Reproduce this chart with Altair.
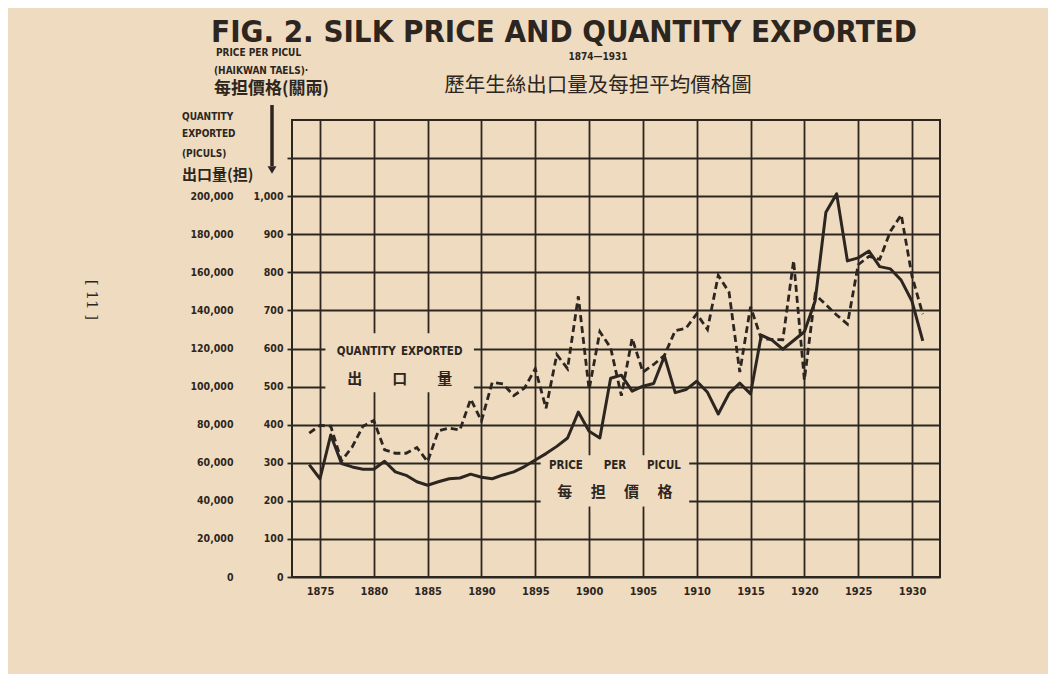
import altair as alt
import pandas as pd

# ---------------- data ----------------
years = list(range(1874, 1932))

# average price per picul, Haikwan taels
price = [295, 258, 373, 298, 289, 283, 283, 304, 276, 267,
         250, 241, 250, 258, 260, 270, 262, 258, 268, 276,
         290, 307, 324, 343, 365, 433, 383, 365, 522, 530,
         488, 501, 508, 580, 484, 492, 514, 485, 428, 482,
         509, 481, 635, 622, 598, 621, 644, 725, 958, 1006,
         830, 838, 856, 815, 809, 779, 724, 620]

# quantity exported, piculs
quantity = [75600, 79600, 79200, 61000, 68400, 79200, 82200, 66800, 65000, 65000,
            68000, 60600, 76800, 78200, 77200, 93400, 82000, 102200, 101400, 95200,
            99200, 109400, 88600, 116800, 109400, 147400, 98400, 128800, 120400, 95200,
            125400, 107600, 111600, 116400, 129400, 130600, 138200, 130000, 158400, 149600,
            107600, 142000, 125000, 124800, 124600, 166200, 103400, 148400, 143000, 137600,
            132800, 164000, 168400, 166800, 181600, 190200, 158000, 138000]

x_ticks = list(range(1875, 1935, 5))
price_ticks = list(range(0, 1200, 100))       # 1100 line drawn, unlabeled
qty_per_price_unit = 200                      # 200,000 piculs <-> 1,000 taels on the chart

# in-plot labels (year, price-scale units)
ann_text = ["QUANTITY\u2002EXPORTED", "PRICE\u2003\u2003PER\u2003\u2003PICUL"]
ann_x = [1882.4, 1902.4]
ann_y = [591, 292]
ann_cjk = ["出　　口　　量", "每 　担 　價 　格"]
ann_cjk_y = [520, 224]
# paper patches behind the labels
box_x0 = [1875.5, 1895.5]
box_x1 = [1889.3, 1909.3]
box_y0 = [485, 185]
box_y1 = [640, 320]

# ---------------- styling ----------------
INK = "#2d2620"
PAPER = "#efdcc0"
FONT = "DejaVu Sans Condensed"
CJK = "Noto Sans CJK TC"

df = pd.DataFrame({"year": years, "price": price, "quantity": quantity})
ann = pd.DataFrame({"x": ann_x, "y": ann_y, "t": ann_text})
ann2 = pd.DataFrame({"x": ann_x, "y": ann_cjk_y, "t": ann_cjk})
boxes = pd.DataFrame({"x0": box_x0, "x1": box_x1, "y0": box_y0, "y1": box_y1})

x_scale = alt.Scale(domain=[1872.4, 1932.6], nice=False, zero=False)
y_scale = alt.Scale(domain=[0, 1200], nice=False, zero=True)

x_axis = alt.Axis(values=x_ticks, format="d", grid=True, gridColor=INK, gridWidth=1.8,
                  gridOpacity=1, ticks=False, domain=False, labelFont=FONT,
                  labelFontWeight="bold", labelFontSize=11, labelColor=INK,
                  labelPadding=8, labelFlush=False, title=None)

price_axis = alt.Axis(values=price_ticks, orient="left",
                      labelExpr="datum.value > 1000 ? '' : format(datum.value, ',d')",
                      grid=True, gridColor=INK, gridWidth=1.8, gridOpacity=1,
                      ticks=True, tickSize=5, tickColor=INK, tickWidth=1.8,
                      domain=False, labelFont=FONT, labelFontWeight="bold",
                      labelFontSize=10.5, labelColor=INK, labelPadding=4,
                      labelFlush=False, title=None)

qty_axis = alt.Axis(values=list(range(0, 1100, 100)), orient="left", offset=55,
                    labelExpr=f"format(datum.value * {qty_per_price_unit}, ',d')",
                    grid=False, ticks=False, tickSize=0, domain=False,
                    labelFont=FONT, labelFontWeight="bold", labelFontSize=10.5,
                    labelColor=INK, labelPadding=4, labelFlush=False, title=None)


def Xn(f):
    return alt.X(f, scale=x_scale, axis=None)


def Yn(f):
    return alt.Y(f, scale=y_scale, axis=None)


rects = alt.Chart(boxes).mark_rect(color=PAPER, opacity=1).encode(
    x=Xn("x0:Q"), x2="x1", y=Yn("y0:Q"), y2="y1")

price_line = alt.Chart(df).mark_line(color=INK, strokeWidth=3, strokeJoin="round").encode(
    x=alt.X("year:Q", scale=x_scale, axis=x_axis),
    y=alt.Y("price:Q", scale=y_scale, axis=price_axis))

qty_line = alt.Chart(df).transform_calculate(
    q=f"datum.quantity / {qty_per_price_unit}"
).mark_line(color=INK, strokeWidth=2.8, strokeDash=[7, 4]).encode(
    x=Xn("year:Q"), y=alt.Y("q:Q", scale=y_scale, axis=qty_axis))

ann_layer = alt.Chart(ann).mark_text(font=FONT, fontWeight="bold", fontSize=11.5,
                                     color=INK, align="center", baseline="middle").encode(
    x=Xn("x:Q"), y=Yn("y:Q"), text="t:N")
ann2_layer = alt.Chart(ann2).mark_text(font=CJK, fontWeight="bold", fontSize=15,
                                       color=INK, align="center", baseline="middle").encode(
    x=Xn("x:Q"), y=Yn("y:Q"), text="t:N")


def label(text, x, y, size, font=FONT, weight="bold", align="left",
          baseline="middle", angle=0):
    return alt.Chart(pd.DataFrame({"t": [text]})).mark_text(
        align=align, baseline=baseline, font=font, fontSize=size,
        fontWeight=weight, color=INK, angle=angle).encode(
        text="t:N", x=alt.value(x), y=alt.value(y))


headers = [
    label("FIG. 2. SILK PRICE AND QUANTITY EXPORTED", 272, -78, 31,
          align="center", baseline="alphabetic"),
    label("1874—1931", 306, -63, 10, align="center"),
    label("歷年生絲出口量及每担平均價格圖", 306, -34, 20.5, font=CJK, weight="normal",
          align="center"),
    label("PRICE PER PICUL", -76, -67, 10),
    label("(HAIKWAN TAELS)·", -78, -49, 10),
    label("每担價格(關兩)", -78, -31, 17, font=CJK),
    label("QUANTITY", -110, -3, 10),
    label("EXPORTED", -110, 14, 10),
    label("(PICULS)", -110, 34, 10),
    label("出口量(担)", -110, 55, 15, font=CJK),
    label("[ 11 ]", -200, 180, 15, font="DejaVu Serif", weight="normal",
          align="center", angle=90),
]

arrow_shaft = alt.Chart(pd.DataFrame({"a": [0]})).mark_rule(
    color=INK, strokeWidth=3.5).encode(
    x=alt.value(-20), y=alt.value(-15), y2=alt.value(46))
arrow_head = alt.Chart(pd.DataFrame({"a": [0]})).mark_point(
    shape="triangle-down", filled=True, color=INK, opacity=1, size=80).encode(
    x=alt.value(-20), y=alt.value(50))

chart = alt.layer(
    rects, price_line, qty_line, ann_layer, ann2_layer, arrow_shaft, arrow_head, *headers
).resolve_axis(x="independent", y="independent").properties(
    width=648, height=457,
    autosize=alt.AutoSizeParams(type="none"),
    padding={"left": 284, "top": 112, "right": 108, "bottom": 97},
    background=PAPER,
).configure_view(stroke=INK, strokeWidth=2)

chart.save("out.html", embed_options={"renderer": "svg", "actions": False})
